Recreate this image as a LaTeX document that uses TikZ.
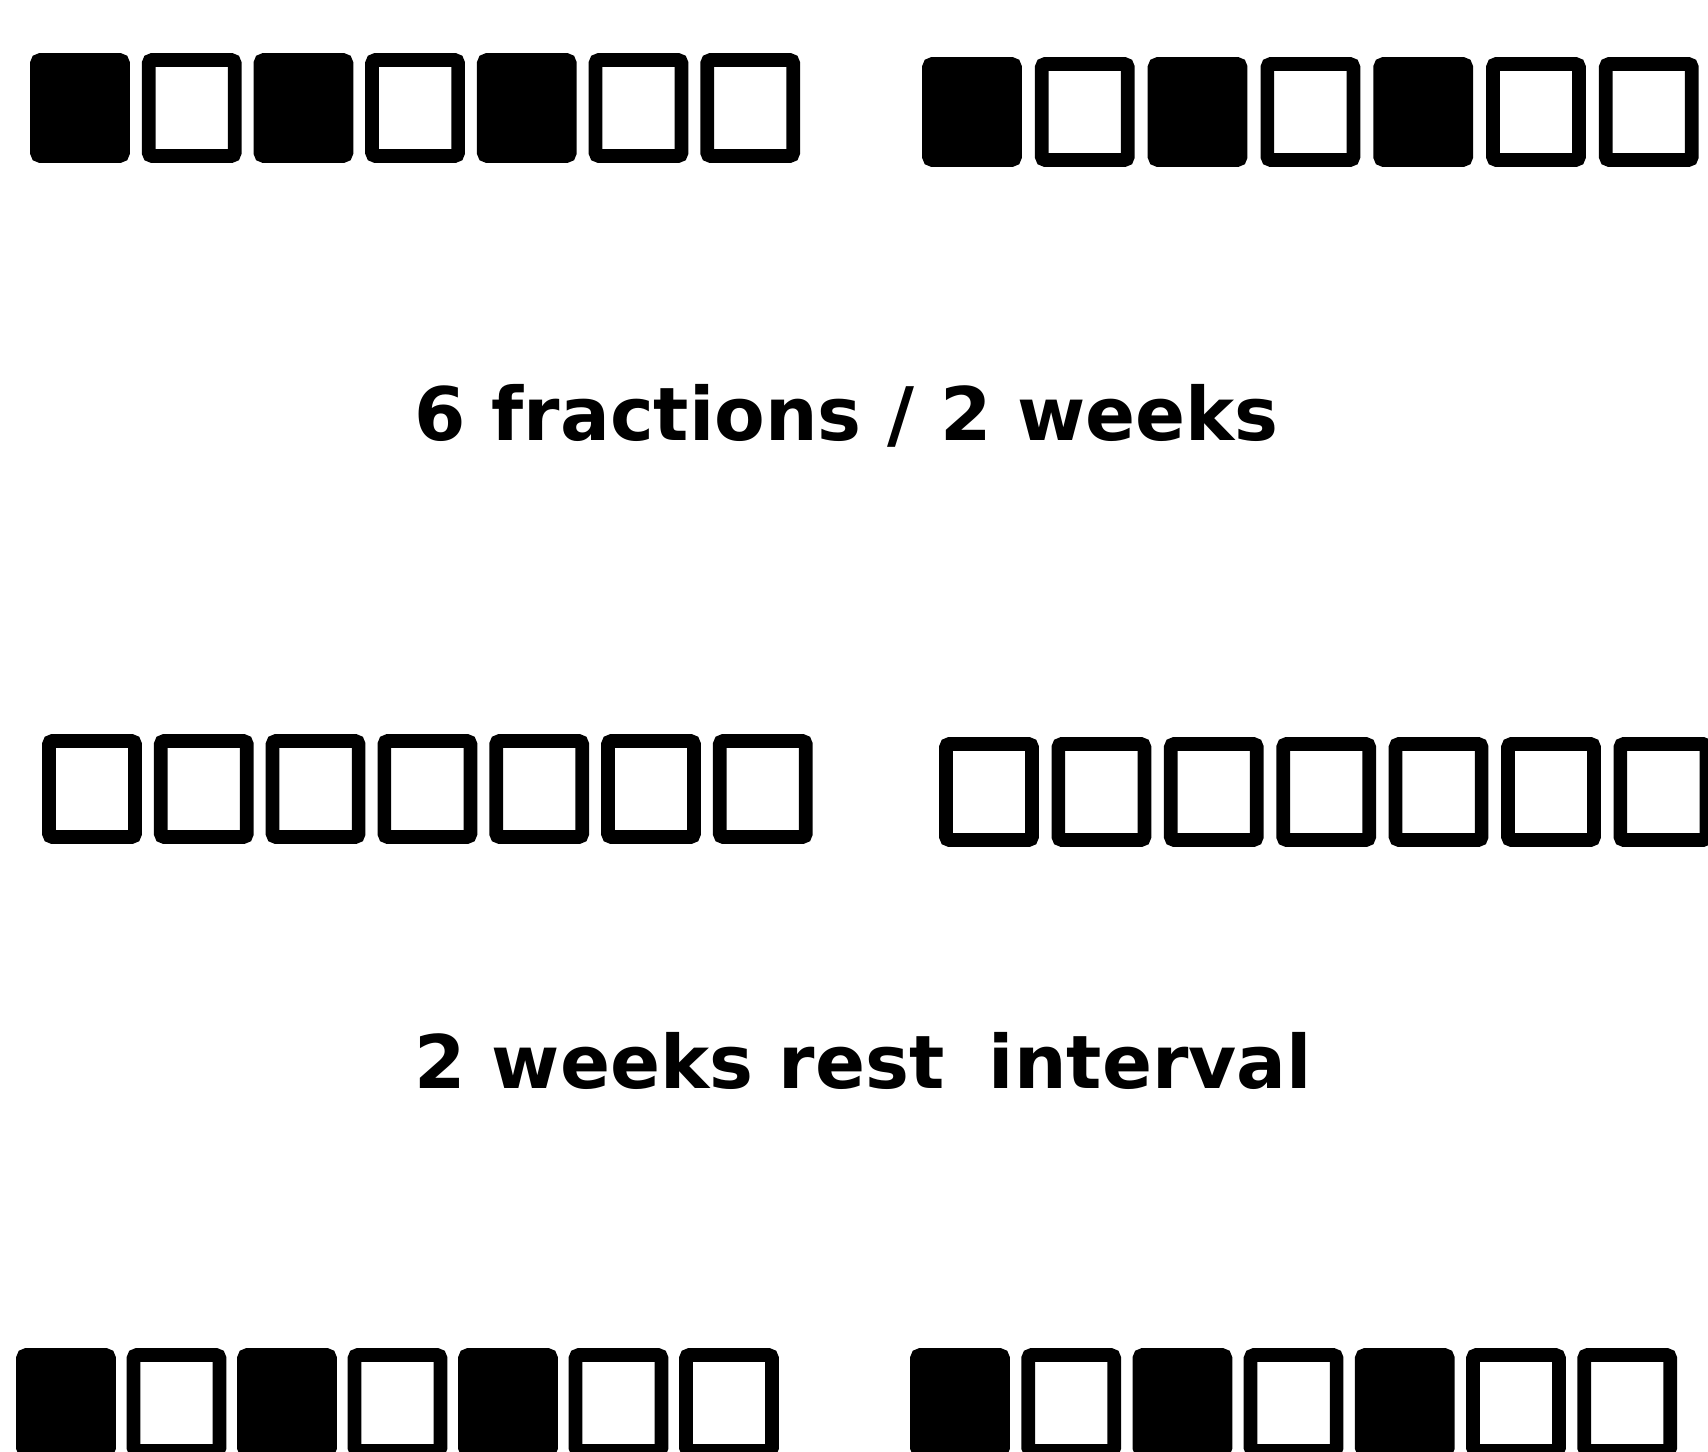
\documentclass[tikz,border=0pt]{standalone}
\usepackage{fontspec}
\setmainfont{DejaVu Sans}
\usetikzlibrary{positioning}

\tikzset{
  slot/.style={draw, line width=3.9pt, rounded corners=1pt, inner sep=0pt,
    minimum width=0.86cm, minimum height=0.96cm},
  caption/.style={font=\bfseries\fontsize{21}{25}\selectfont, anchor=base west, inner sep=0pt}
}

\begin{document}
\begin{tikzpicture}[x=0.01cm, y=-0.01cm]
\useasboundingbox[fill=white] (0,0) rectangle (1708,1452);

% irradiation course: filled = fraction given
\foreach \i/\c in {0/black,1/white,2/black,3/white,4/black,5/white,6/white} {
  \node[slot, fill=\c] (first-l\i) at (80+111.7*\i, 108) {};
  \node[slot, fill=\c] (first-r\i) at (972+112.8*\i, 112) {};
  \node[slot, fill=\c] (second-l\i) at (66+110.5*\i, 1403) {};
  \node[slot, fill=\c] (second-r\i) at (960+111.2*\i, 1403) {};
  \node[slot, fill=white] (pause-l\i) at (92+111.8*\i, 789) {};
  \node[slot, fill=white] (pause-r\i) at (989+112.4*\i, 792) {};
}

\node[caption] (plan) at (414,441) {6 fractions / 2 weeks};
\node[caption] (rest) at (414,1088) {2 weeks rest\hspace{0.6em}interval};
\end{tikzpicture}
\end{document}
